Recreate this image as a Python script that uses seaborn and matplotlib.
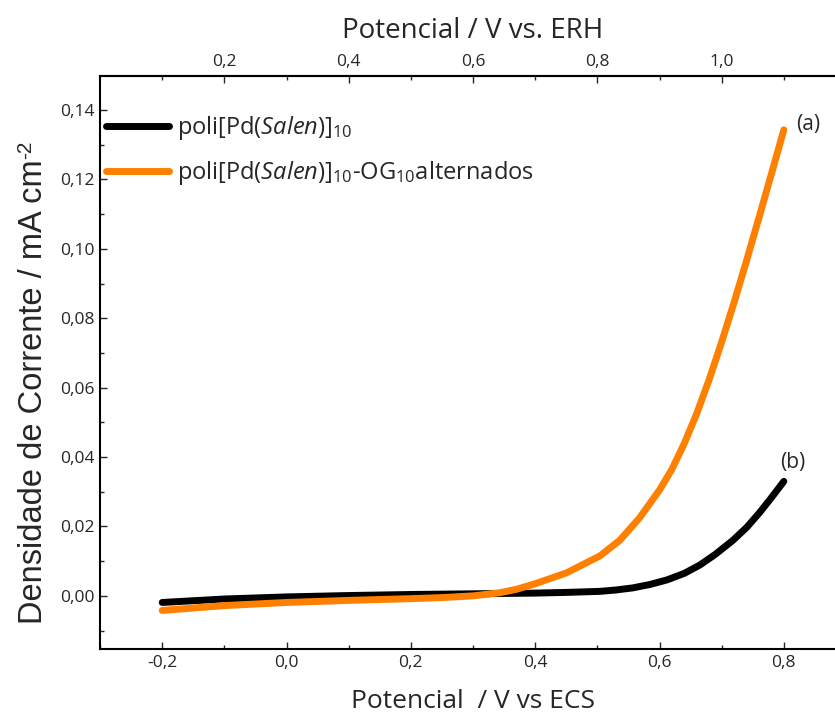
import numpy as np
import pandas as pd
import matplotlib
matplotlib.use("Agg")
import matplotlib.pyplot as plt
from matplotlib.ticker import MultipleLocator, FixedLocator, FuncFormatter
import seaborn as sns

# Potential vs SCE (V) and current density (mA cm^-2)
potential_a = [-0.20, -0.10, 0.00, 0.10, 0.20, 0.25, 0.30, 0.343, 0.37, 0.40, 0.45,
               0.504, 0.536, 0.568, 0.60, 0.62, 0.64, 0.66, 0.68, 0.70, 0.72,
               0.74, 0.76, 0.78, 0.80]
current_a = [-0.0042, -0.0028, -0.0019, -0.0013, -0.0008, -0.0005, 0.0000, 0.0009, 0.0019,
             0.0035, 0.0066, 0.0115, 0.0160, 0.0225, 0.0305, 0.0365, 0.0440,
             0.0526, 0.0624, 0.0732, 0.0846, 0.0966, 0.1090, 0.1216, 0.1343]

potential_b = [-0.20, -0.10, 0.00, 0.10, 0.20, 0.30, 0.40, 0.45, 0.504, 0.53,
               0.557, 0.585, 0.612, 0.64, 0.665, 0.69, 0.718, 0.74, 0.761, 0.78, 0.80]
current_b = [-0.0019, -0.0009, -0.0003, 0.0001, 0.0004, 0.0006, 0.0008, 0.0010,
             0.0013, 0.0017, 0.0023, 0.0033, 0.0046, 0.0065, 0.0089, 0.0120,
             0.0160, 0.0197, 0.0240, 0.0283, 0.0330]

label_b = r"poli[Pd($\mathit{Salen}$)]$_{10}$"
label_a = r"poli[Pd($\mathit{Salen}$)]$_{10}$-OG$_{10}$alternados"

ERH_OFFSET = 0.3
TICK_FS = 12.5

sns.set_style("ticks")
plt.rcParams["font.family"] = ["Open Sans", "DejaVu Sans"]
plt.rcParams["mathtext.fontset"] = "custom"
plt.rcParams["mathtext.rm"] = "Open Sans"
plt.rcParams["mathtext.it"] = "Open Sans:italic"
plt.rcParams["mathtext.bf"] = "Open Sans:bold"

fig = plt.figure(figsize=(8.35, 7.13), dpi=100)
ax = fig.add_axes([0.1198, 0.0898, 0.8934, 0.8036])

df_b = pd.DataFrame({"E": potential_b, "j": current_b})
df_a = pd.DataFrame({"E": potential_a, "j": current_a})

sns.lineplot(data=df_b, x="E", y="j", ax=ax, color="black", lw=5,
             label=label_b, solid_capstyle="round", sort=False)
sns.lineplot(data=df_a, x="E", y="j", ax=ax, color="#ff8000", lw=5,
             label=label_a, solid_capstyle="round", sort=False)

ax.set_xlim(-0.3, 0.9)
ax.set_ylim(-0.0153, 0.1498)

def comma(fmt):
    return FuncFormatter(lambda v, p: (fmt % v).replace(".", ",").replace("-0,00", "0,00"))

ax.xaxis.set_major_locator(MultipleLocator(0.2))
ax.xaxis.set_minor_locator(MultipleLocator(0.1))
ax.yaxis.set_major_locator(MultipleLocator(0.02))
ax.yaxis.set_minor_locator(MultipleLocator(0.01))
ax.xaxis.set_major_formatter(comma("%.1f"))
ax.yaxis.set_major_formatter(comma("%.2f"))

for side in ["left", "bottom", "top"]:
    ax.spines[side].set_linewidth(1.5)
    ax.spines[side].set_color("black")
ax.spines["right"].set_visible(False)

ax.tick_params(which="major", direction="in", length=5, width=1, labelsize=TICK_FS, pad=4)
ax.tick_params(which="minor", direction="in", length=3, width=1)

ax.set_xlabel("Potencial  / V vs ECS", fontsize=19, labelpad=13)
ax.set_ylabel("")

# ERH scale on the top axis
top = ax.secondary_xaxis("top", functions=(lambda x: x + ERH_OFFSET, lambda x: x - ERH_OFFSET))
top.xaxis.set_major_locator(FixedLocator([0.2, 0.4, 0.6, 0.8, 1.0]))
top.xaxis.set_minor_locator(FixedLocator([0.1, 0.3, 0.5, 0.7, 0.9, 1.1]))
top.xaxis.set_major_formatter(comma("%.1f"))
top.tick_params(which="major", direction="in", length=5, width=1, labelsize=TICK_FS, pad=4)
top.tick_params(which="minor", direction="in", length=3, width=1)
top.set_xlabel("Potencial / V vs. ERH", fontsize=20, labelpad=12)
top.spines["top"].set_linewidth(1.5)

# y label with a plain-hyphen superscript
ylab = fig.text(34 / 835, 1 - 392 / 713, "Densidade de Corrente / mA cm", rotation=90,
                ha="center", va="center", fontsize=23.5, family=["Liberation Sans", "DejaVu Sans"])
fig.canvas.draw()
bb = ylab.get_window_extent()
fig.text((bb.x0 - 2) / fig.bbox.width, (bb.y1 + 1) / fig.bbox.height, "-2", rotation=90,
         ha="left", va="bottom", fontsize=15, family=["Liberation Sans", "DejaVu Sans"])

ax.text(0.839, 0.1357, "(a)", fontsize=15, ha="center", va="center")
ax.text(0.814, 0.0383, "(b)", fontsize=15, ha="center", va="center")

ax.legend(loc="upper left", bbox_to_anchor=(0.008, 0.934), frameon=False,
          fontsize=17, handlelength=2.65, handletextpad=0.35, labelspacing=0.72,
          borderaxespad=0, borderpad=0)

fig.savefig("out.png", dpi=100)
